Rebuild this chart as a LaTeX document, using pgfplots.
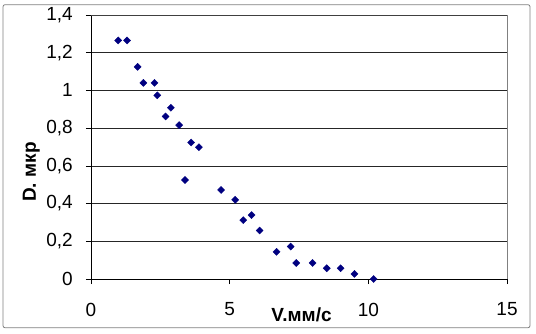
\documentclass[border=0pt]{standalone}
\usepackage{pgfplots}
\pgfplotsset{compat=1.18}
\usepackage{fontspec}
\setmainfont{Liberation Sans}
\begin{document}
\begin{tikzpicture}
\begin{axis}[
  at={(0,0)}, anchor=south west,
  scale only axis, width=416bp, height=264bp,
  xmin=0, xmax=15, ymin=0, ymax=1.4,
  xtick={0,5,10,15}, ytick={0,0.2,...,1.4},
  axis x line*=bottom, axis y line*=left,
  axis line style={black, line width=0.8pt, -},
  tick align=outside, major tick length=5bp,
  tick style={black, line width=0.6pt},
  ymajorgrids, grid style={black!85, line width=0.6pt},
  /pgf/number format/assume math mode=true,
  /pgf/number format/use comma,
  ticklabel style={font=\fontsize{19bp}{21bp}\selectfont, inner sep=0pt},
  yticklabel style={anchor=east, xshift=-13bp},
  xticklabel style={anchor=north, yshift=-18.7bp},
  clip=false,
]
\addplot[only marks, mark=square*, mark size=2.5bp, color={rgb,255:red,0;green,0;blue,128},
  every mark/.append style={rotate=45}] coordinates {
(0.98,1.265) (1.30,1.265) (1.68,1.125) (1.89,1.04) (2.29,1.04) (2.39,0.974)
(2.88,0.908) (2.69,0.862) (3.18,0.816) (3.61,0.724) (3.89,0.699)
(3.39,0.525) (4.69,0.472) (5.20,0.420) (5.49,0.312) (5.79,0.339) (6.08,0.257)
(6.69,0.144) (7.20,0.172) (7.40,0.085) (7.99,0.085) (8.50,0.057) (9.00,0.057)
(9.50,0.027) (10.19,0.0)
};
\draw[gray, line width=0.8pt] (rel axis cs:1,0) -- (rel axis cs:1,1);
\draw[black!75, line width=0.8pt] (rel axis cs:0,1) -- (rel axis cs:1,1);
\node[font=\fontsize{19bp}{21bp}\selectfont\bfseries, anchor=base, inner sep=0pt] at ([yshift=-42.7bp]axis description cs:0.506,0) {V.мм/с};
\node[font=\fontsize{19bp}{21bp}\selectfont\bfseries, anchor=base, inner sep=0pt, rotate=90] at ([xshift=-55bp]axis description cs:0,0.405) {D. мкр};
\end{axis}
\draw[gray, line width=0.8pt, rounded corners=2bp] (-88bp,-48.7bp) rectangle (439bp,274.3bp);
\useasboundingbox (-91bp,-55bp) rectangle (445bp,279bp);
\end{tikzpicture}
\end{document}
